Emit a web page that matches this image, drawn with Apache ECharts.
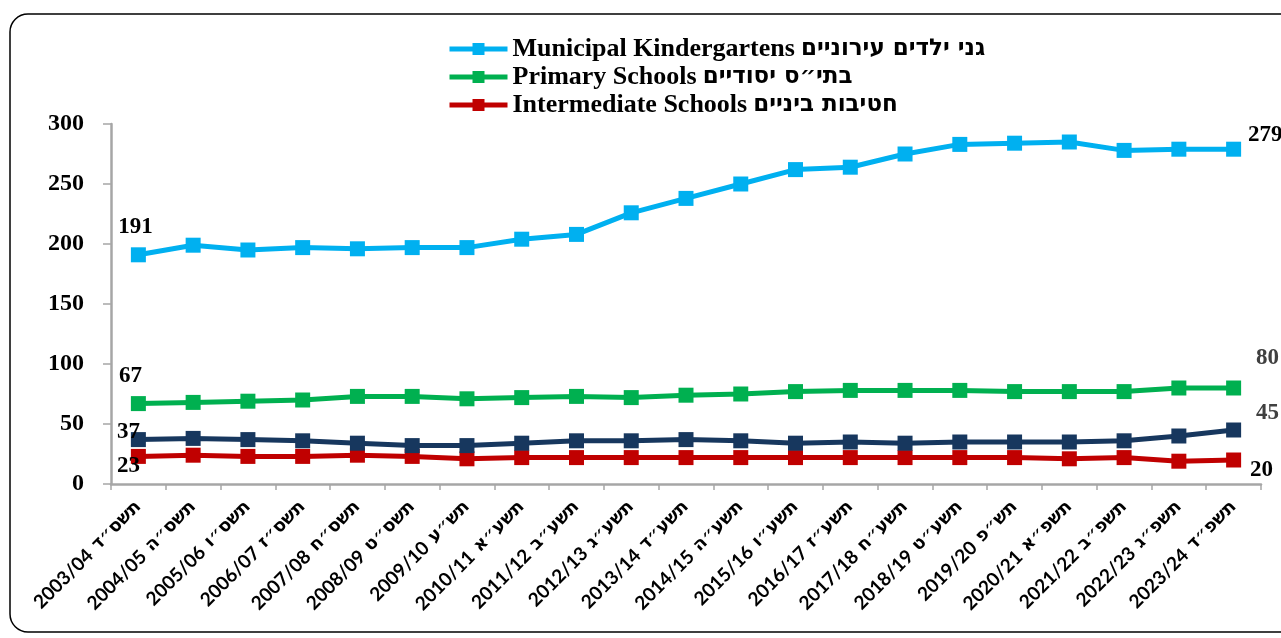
<!DOCTYPE html>
<html><head><meta charset="utf-8">
<script src="https://cdn.jsdelivr.net/npm/echarts@6/dist/echarts.min.js"></script>
<style>html,body{margin:0;padding:0;background:#fff}#c{width:1281px;height:638px}</style>
</head><body><div id="c"></div>
<script>
const categories = ["2003/04 תשס״ד","2004/05 תשס״ה","2005/06 תשס״ו","2006/07 תשס״ז","2007/08 תשס״ח","2008/09 תשס״ט","2009/10 תש״ע","2010/11 תשע״א","2011/12 תשע״ב","2012/13 תשע״ג","2013/14 תשע״ד","2014/15 תשע״ה","2015/16 תשע״ו","2016/17 תשע״ז","2017/18 תשע״ח","2018/19  תשע״ט","2019/20 תש״פ","2020/21 תשפ״א","2021/22 תשפ״ב","2022/23 תשפ״ג","2023/24 תשפ״ד"];
const kindergartens = [191,199,195,197,196,197,197,204,208,226,238,250,262,264,275,283,284,285,278,279,279];
const primary = [67,68,69,70,73,73,71,72,73,72,74,75,77,78,78,78,77,77,77,80,80];
const other = [37,38,37,36,34,32,32,34,36,36,37,36,34,35,34,35,35,35,36,40,45];
const intermediate = [23,24,23,23,24,23,21,22,22,22,22,22,22,22,22,22,22,21,22,19,20];
const names = ["Municipal Kindergartens גני ילדים עירוניים","Primary Schools בתי״ס יסודיים","Intermediate Schools חטיבות ביניים"];

const serif = "'Liberation Serif','Times New Roman',serif";
function lbl(arr, first, last){
  return arr.map((v,i)=>{
    if(i===0) return {value:v,label:Object.assign({show:true,fontFamily:serif,fontWeight:'bold',fontSize:23,color:'#000'},first)};
    if(i===arr.length-1) return {value:v,label:Object.assign({show:true,fontFamily:serif,fontWeight:'bold',fontSize:23,color:'#000'},last)};
    return v;
  });
}
function ser(name,color,data,z){
  return {name:name,type:'line',data:data,symbol:'rect',symbolSize:15,z:z,
    lineStyle:{color:color,width:5},itemStyle:{color:color},color:color,animation:false};
}
function splitHeb(s){
  const m = s.match(/^(.*?)(\s+)([\u0590-\u05FF].*)$/);
  return m ? [m[1], m[2], m[3]] : [s,'',''];
}
const chart = echarts.init(document.getElementById('c'));
chart.setOption({
  animation:false,
  graphic:[{type:'rect',shape:{x:10,y:14,width:1320,height:618,r:18},style:{fill:'none',stroke:'#000',lineWidth:1.5},z:-1}],
  grid:{left:111,right:20,top:124,bottom:154,containLabel:false},
  legend:{data:names,orient:'vertical',left:447,top:36,padding:0,itemGap:2,itemWidth:58,itemHeight:15,
    lineStyle:{width:5},
    formatter:function(n){const p=splitHeb(n);return '{e|'+p[0]+'}{h|'+p[2]+'}';},
    textStyle:{fontFamily:serif,fontWeight:'bold',fontSize:26,color:'#000',
      rich:{e:{fontFamily:serif,fontWeight:'bold',fontSize:26,color:'#000',padding:[0,6,0,0]},
            h:{fontFamily:"'DejaVu Sans',sans-serif",fontWeight:'bold',fontSize:23,color:'#000'}}}},
  xAxis:{type:'category',data:categories,boundaryGap:true,
    axisLine:{lineStyle:{color:'#a6a6a6',width:2.5}},
    axisTick:{show:true,length:6,lineStyle:{color:'#a6a6a6',width:1.5}},
    axisLabel:{rotate:45,interval:0,margin:20,
      formatter:function(v){const p=splitHeb(v);return '{y|'+p[0]+'}{h|'+p[2]+'}';},
      rich:{y:{fontFamily:"Lato,sans-serif",fontWeight:'bold',fontSize:19,color:'#000',padding:[0,7,0,0]},
            h:{fontFamily:"'DejaVu Sans',sans-serif",fontWeight:'bold',fontSize:18,color:'#000'}},
      fontFamily:"Lato,'DejaVu Sans',sans-serif",fontWeight:'bold',fontSize:19,color:'#000'}},
  yAxis:{type:'value',min:0,max:300,interval:50,
    axisLine:{show:true,lineStyle:{color:'#a6a6a6',width:2.5}},
    axisTick:{show:true,length:8,lineStyle:{color:'#a6a6a6',width:1.5}},
    splitLine:{show:false},
    axisLabel:{margin:27,fontFamily:serif,fontWeight:'bold',fontSize:24,color:'#000'}},
  series:[
    ser(names[0],'#00b0f0',lbl(kindergartens,{position:'top',offset:[-3,-4]},{position:'right',offset:[2,-14]}),4),
    ser(names[1],'#00b050',lbl(primary,{position:'top',offset:[-8,-4]},{position:'right',offset:[10,-30],color:'#404040'}),3),
    ser('Other','#17375e',lbl(other,{position:'left',offset:[14,-8]},{position:'right',offset:[10,-17],color:'#404040'}),2),
    ser(names[2],'#c00000',lbl(intermediate,{position:'left',offset:[14,10]},{position:'right',offset:[4,10]}),1)
  ]
});
</script></body></html>
